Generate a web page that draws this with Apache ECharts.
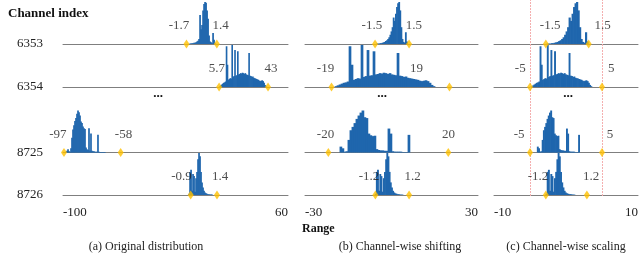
<!DOCTYPE html>
<html><head><meta charset="utf-8">
<script src="https://cdn.jsdelivr.net/npm/echarts@6/dist/echarts.min.js"></script>
<style>html,body{margin:0;padding:0;background:#fff}#c{width:640px;height:270px}</style>
</head><body><div id="c"></div>
<script>
// ---------------- data ----------------
const channels = ['6353', '6354', '8725', '8726'];
const captions = ['(a) Original distribution', '(b) Channel-wise shifting', '(c) Channel-wise scaling'];
const axisMin = [-100, -30, -10];
const axisMax = [60, 30, 10];
const axisStep = [20, 10, 5];

// histogram bin heights (% of tallest bin)
const hist1A  = [1,1,2,2,3,3,4,6,8,12,69,35,45,80,95,100,98,80,60,20,6,4,2,26,10,2];
const hist1BC = [1,1,1,2,2,3,4,5,7,9,12,16,22,30,40,63,55,72,88,97,100,80,40,12,5,3,28,6];
const hist2   = [2,4,6,8,10,11,13,97,53,17,19,21,20,100,24,26,88,27,28,85,30,31,33,32,34,33,31,33,30,29,28,81,27,26,24,25,22,21,20,19,18,17,15,14,15,16,14,10,5,2];
const hist3A  = [2,4,8,3,2,10,35,55,65,75,82,92,100,96,88,74,70,62,58,56,12,8,6,58,5,45,4,3,3,2,2,2,42,2,1,1,1,1,1,1];
const hist3BC = [14,10,2,3,30,53,61,70,80,88,95,100,84,82,45,41,39,40,8,6,5,5,4,4,57,45,3,2,2,2,2,1,1,1,42];
const hist4   = [3,55,60,10,50,45,8,40,55,85,100,92,55,30,18,10,6,4,3,2,2,1,1,1];

// which histogram each panel/row uses, and its extent on the panel axis
const histA = [hist1A, hist2, hist3A, hist4];
const histB = [hist1BC, hist2, hist3BC, hist4];
const histC = [hist1BC, hist2, hist3BC, hist4];
const rangeA = [[-10, 8.5], [11.3, 44.7], [-98.2, -69.8], [-10.7, 6.3]];
const rangeB = [[-5.2, 5.55], [-19.6, 15.1], [-17.9, 6.4], [-5.7, 4.0]];
const rangeC = [[-2.7, 3.1], [-4.8, 3.6], [-4.0, 1.9], [-2.8, 1.25]];

// min/max markers (position on panel axis) and their labels
const markA = [[-12.2, 9.4], [11, 45.8], [-99.3, -59], [-9.2, 9.5]];
const markB = [[-5.7, 6.1], [-20.8, 20.1], [-21.9, 19.7], [-5.6, 6.1]];
const markC = [[-2.8, 3.15], [-5, 5], [-5, 5], [-2.8, 2.9]];
const textA = [['-1.7', '1.4'], ['5.7', '43'], ['-97', '-58'], ['-0.9', '1.4']];
const textB = [['-1.5', '1.5'], ['-19', '19'], ['-20', '20'], ['-1.2', '1.2']];
const textC = [['-1.5', '1.5'], ['-5', '5'], ['-5', '5'], ['-1.2', '1.2']];
const textPosA = [[-17.5, 12.0], [9.5, 47.9], [-103.6, -57], [-15.7, 11.7]];
const textPosB = [[-6.8, 7.8], [-22.9, 8.7], [-22.9, 19.8], [-7.8, 7.3]];
const textPosC = [[-2.2, 5.1], [-6.35, 6.3], [-6.5, 6.1], [-3.9, 3.5]];

// clipping bounds shown in (c)
const clipBounds = [-5, 5];

// ---------------- layout / style ----------------
const FONT = '"Liberation Serif", "Times New Roman", serif';
const panelLeft = [63, 305, 494];
const panelWidth = [225, 173, 144];
const rowBase = [44, 87, 152.5, 195];
const rowH = 42;
const BAR = '#1f66ad';
const DIAMOND = '#ffc000';
const TXT = '#222';
const LABEL_Y = 43; // label height above baseline, in % of row height

const hists = [histA, histB, histC];
const ranges = [rangeA, rangeB, rangeC];
const marks = [markA, markB, markC];
const texts = [textA, textB, textC];
const textPos = [textPosA, textPosB, textPosC];

const grid = [], xAxis = [], yAxis = [], series = [];

for (let p = 0; p < 3; p++) {
  const pxPerUnit = panelWidth[p] / (axisMax[p] - axisMin[p]);
  for (let r = 0; r < 4; r++) {
    const gi = grid.length;
    grid.push({left: panelLeft[p], top: rowBase[r] - rowH, width: panelWidth[p], height: rowH,
               containLabel: false, outerBoundsMode: 'none'});
    const mn = axisMin[p], mx = axisMax[p];
    xAxis.push({
      gridIndex: gi, type: 'value', min: mn, max: mx, interval: axisStep[p],
      axisLine: {show: true, lineStyle: {color: '#7f7f7f', width: 1}},
      axisTick: {show: false}, splitLine: {show: false},
      axisLabel: r === 3 ? {
        show: true, margin: 11, fontSize: 13, fontFamily: FONT, color: TXT,
        showMinLabel: true, showMaxLabel: true,
        alignMinLabel: 'left', alignMaxLabel: 'right',
        formatter: v => (v === mn || v === mx) ? String(v) : ''
      } : {show: false}
    });
    yAxis.push({
      gridIndex: gi, type: 'value', min: 0, max: 100, interval: 50,
      axisLine: {show: false}, axisTick: {show: false}, splitLine: {show: false},
      axisLabel: p === 0 ? {
        show: true, margin: 20, fontSize: 13, fontFamily: FONT, color: TXT,
        formatter: v => v === 0 ? channels[r] : ''
      } : {show: false}
    });

    const h = hists[p][r];
    const [lo, hi] = ranges[p][r];
    const bw = (hi - lo) / h.length;
    series.push({
      type: 'bar', xAxisIndex: gi, yAxisIndex: gi, silent: true,
      barWidth: bw * pxPerUnit + 0.7,
      itemStyle: {color: BAR},
      data: h.map((v, i) => [lo + (i + 0.5) * bw, v])
    });
    series.push({
      type: 'scatter', xAxisIndex: gi, yAxisIndex: gi, silent: true, z: 5, clip: false,
      symbol: 'diamond', symbolSize: [6, 9],
      itemStyle: {color: DIAMOND},
      data: marks[p][r].map(x => [x, 0])
    });
    series.push({
      type: 'scatter', xAxisIndex: gi, yAxisIndex: gi, silent: true, z: 6, clip: false,
      symbolSize: 1, itemStyle: {color: 'transparent'},
      label: {show: true, position: 'inside', formatter: '{b}', fontSize: 13, fontFamily: FONT, color: TXT},
      data: textPos[p][r].map((x, i) => ({name: texts[p][r][i], value: [x, LABEL_Y]}))
    });
  }
}

// full-height overlay grid for the clipping bounds of panel (c)
const gOv = grid.length;
grid.push({left: panelLeft[2], top: 0, width: panelWidth[2], height: 196, containLabel: false, outerBoundsMode: 'none'});
xAxis.push({gridIndex: gOv, type: 'value', min: axisMin[2], max: axisMax[2], show: false});
yAxis.push({gridIndex: gOv, type: 'value', min: 0, max: 1, show: false});
series.push({
  type: 'line', xAxisIndex: gOv, yAxisIndex: gOv, data: [], silent: true, z: 1,
  markLine: {
    silent: true, symbol: 'none', label: {show: false},
    lineStyle: {color: '#f4afaf', type: [2, 1], width: 1, opacity: 1},
    emphasis: {disabled: true},
    data: clipBounds.map(v => ({xAxis: v}))
  }
});

const graphic = [
  {type: 'text', x: 8, y: 14, style: {text: 'Channel index', font: 'bold 13px ' + FONT, fill: '#111', verticalAlign: 'middle'}},
  {type: 'text', x: 302, y: 229, style: {text: 'Range', font: 'bold 12px ' + FONT, fill: '#111', verticalAlign: 'middle'}},
  {type: 'text', x: 146, y: 247, style: {text: captions[0], font: '12px ' + FONT, fill: TXT, align: 'center', verticalAlign: 'middle'}},
  {type: 'text', x: 400, y: 247, style: {text: captions[1], font: '12px ' + FONT, fill: TXT, align: 'center', verticalAlign: 'middle'}},
  {type: 'text', x: 566, y: 247, style: {text: captions[2], font: '12px ' + FONT, fill: TXT, align: 'center', verticalAlign: 'middle'}},
  {type: 'text', x: 158, y: 94, style: {text: '...', font: 'bold 13px ' + FONT, fill: '#111', align: 'center', verticalAlign: 'middle'}},
  {type: 'text', x: 382, y: 94, style: {text: '...', font: 'bold 13px ' + FONT, fill: '#111', align: 'center', verticalAlign: 'middle'}},
  {type: 'text', x: 568, y: 94, style: {text: '...', font: 'bold 13px ' + FONT, fill: '#111', align: 'center', verticalAlign: 'middle'}}
];

const chart = echarts.init(document.getElementById('c'), null, {renderer: 'canvas'});
chart.setOption({animation: false, backgroundColor: '#fff', grid, xAxis, yAxis, series, graphic});
</script>
</body></html>
